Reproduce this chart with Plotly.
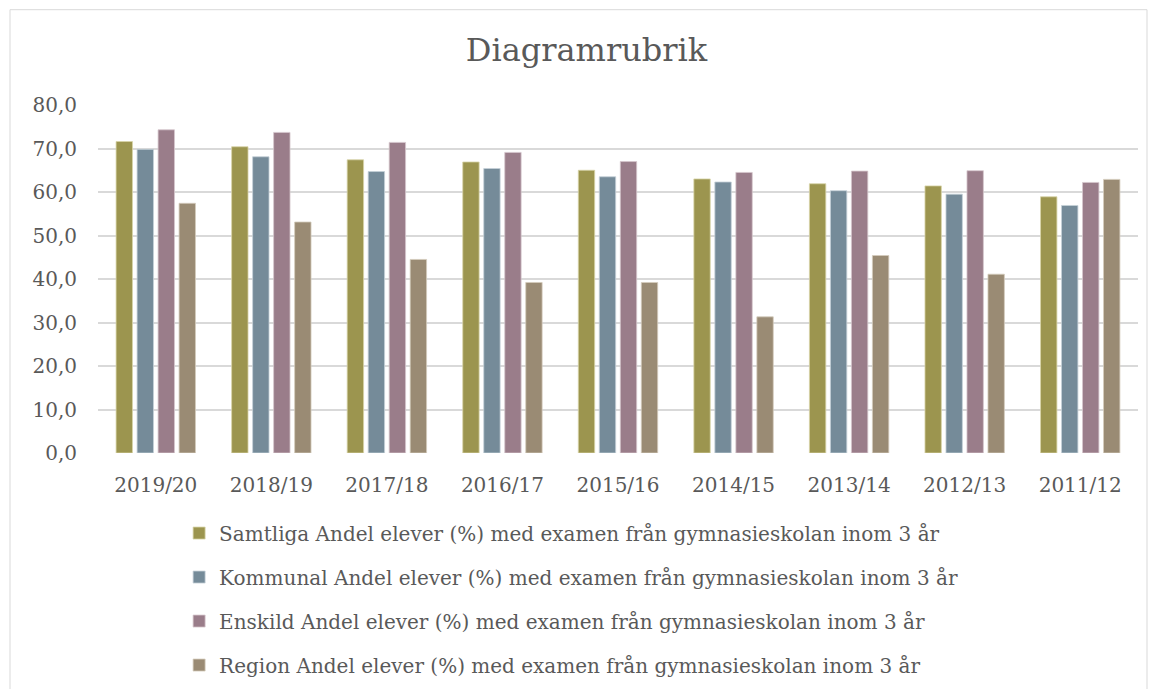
import plotly.graph_objects as go

categories = ["2019/20", "2018/19", "2017/18", "2016/17", "2015/16", "2014/15", "2013/14", "2012/13", "2011/12"]
samtliga = [71.6, 70.4, 67.4, 66.9, 65.0, 63.0, 61.9, 61.4, 58.9]
kommunal = [69.8, 68.1, 64.7, 65.4, 63.5, 62.3, 60.3, 59.5, 56.9]
enskild = [74.3, 73.7, 71.4, 69.1, 67.0, 64.5, 64.8, 64.9, 62.2]
region = [57.4, 53.1, 44.5, 39.2, 39.2, 31.3, 45.4, 41.1, 62.9]

series_names = [
    "Samtliga Andel elever (%) med examen från gymnasieskolan inom 3 år",
    "Kommunal Andel elever (%) med examen från gymnasieskolan inom 3 år",
    "Enskild Andel elever (%) med examen från gymnasieskolan inom 3 år",
    "Region Andel elever (%) med examen från gymnasieskolan inom 3 år",
]
colors = ["#9C954F", "#758B99", "#9A7D8A", "#9A8B74"]
edge = ["#D8D4A8", "#C5D0D8", "#D6C6CD", "#D4CBBD"]
tick_vals = [0, 10, 20, 30, 40, 50, 60, 70, 80]
tick_text = ["0,0", "10,0", "20,0", "30,0", "40,0", "50,0", "60,0", "70,0", "80,0"]

FONT = "DejaVu Serif"
fig = go.Figure()
for i, (name, vals) in enumerate(zip(series_names, [samtliga, kommunal, enskild, region])):
    fig.add_trace(go.Bar(
        x=categories, y=vals, name=name,
        marker=dict(color=colors[i], line=dict(color=edge[i], width=0.8)),
        legendgroup=f"g{i}",
    ))

fig.update_layout(
    width=1157, height=689,
    margin=dict(l=90, r=27, t=97, b=244, autoexpand=False),
    paper_bgcolor="white", plot_bgcolor="white",
    barmode="group", bargap=0.273, bargroupgap=0.22,
    title=dict(text="Diagramrubrik", x=0.5, xanchor="center", y=0.939, yanchor="middle",
               font=dict(family=FONT, size=32, color="#595959")),
    font=dict(family=FONT, color="#595959"),
    xaxis=dict(tickfont=dict(size=20, color="#595959"), showgrid=False, zeroline=False,
               showline=False, ticks="outside", ticklen=14, tickcolor="rgba(0,0,0,0)"),
    yaxis=dict(range=[0, 80], tickvals=tick_vals, ticktext=tick_text,
               tickfont=dict(size=20, color="#595959"), showgrid=True,
               gridcolor="#D9D9D9", gridwidth=1.5, zeroline=False,
               ticks="outside", ticklen=16, tickcolor="rgba(0,0,0,0)"),
    legend=dict(orientation="v", x=0.078, xanchor="left", y=-0.174, yanchor="top",
                font=dict(size=20, color="#595959"), traceorder="grouped",
                tracegroupgap=15, bgcolor="rgba(0,0,0,0)"),
    shapes=[dict(type="rect", xref="paper", yref="paper",
                 x0=(2 - 90) / 1040, x1=(1139 - 90) / 1040,
                 y0=-0.9, y1=(445.3 - 2) / 348,
                 line=dict(color="#D9D9D9", width=1), fillcolor="rgba(0,0,0,0)", layer="below")],
)
fig.write_html("out.html")
